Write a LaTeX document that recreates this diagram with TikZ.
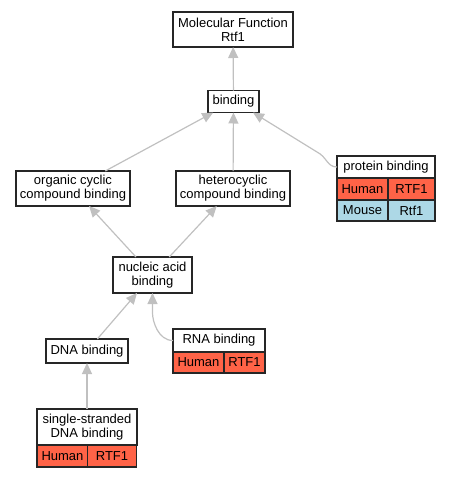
\documentclass[tikz,border=0pt]{standalone}
\usepackage{fontspec}
\setmainfont{Liberation Sans}
\usetikzlibrary{arrows.meta,calc}
\definecolor{edgegray}{RGB}{192,192,192}
\definecolor{humanred}{RGB}{255,99,71}
\definecolor{mouseblue}{RGB}{173,216,230}
\begin{document}
\begin{tikzpicture}[x=1pt,y=-1pt,
  every node/.style={font=\fontsize{13}{13.8}\selectfont, inner sep=0pt, outer sep=0pt},
  termbox/.style={draw=black!85, fill=white, line width=1.2pt, align=center},
  cellred/.style={draw=black!85, fill=humanred, line width=1.2pt},
  cellblue/.style={draw=black!85, fill=mouseblue, line width=1.2pt},
  isa/.style={draw=edgegray, line width=1.2pt, -{Triangle[length=11pt,width=10pt]}}]
\useasboundingbox (0,0) rectangle (449,477);
% term boxes
\node[termbox, minimum width=120pt, minimum height=35pt] (mf) at (233,29.5) {Molecular Function\\Rtf1};
\node[termbox, minimum width=51pt, minimum height=22pt] (bind) at (233.5,101.5) {binding};
\node[termbox, minimum width=114pt, minimum height=35pt] (org) at (73,188.5) {organic cyclic\\compound binding};
\node[termbox, minimum width=114pt, minimum height=35pt] (het) at (233,188.5) {heterocyclic\\compound binding};
\node[termbox, minimum width=79pt, minimum height=36pt] (nuc) at (152.5,275) {nucleic acid\\binding};
\node[termbox, minimum width=82pt, minimum height=24pt] (dna) at (87,351) {DNA binding};
% protein binding table
\node[termbox, minimum width=98pt, minimum height=22pt] (pb) at (386,167) {protein binding};
\node[cellred, minimum width=51pt, minimum height=22pt] (pbh) at (362.5,189) {Human};
\node[cellred, minimum width=47pt, minimum height=22pt] (pbhg) at (411.5,189) {RTF1};
\node[cellblue, minimum width=51pt, minimum height=21pt] (pbm) at (362.5,210.5) {Mouse};
\node[cellblue, minimum width=47pt, minimum height=21pt] (pbmg) at (411.5,210.5) {Rtf1};
% RNA binding table
\node[termbox, minimum width=92pt, minimum height=23pt] (rna) at (219,340.5) {RNA binding};
\node[cellred, minimum width=51pt, minimum height=21pt] (rnah) at (198.5,362.5) {Human};
\node[cellred, minimum width=41pt, minimum height=21pt] (rnahg) at (244.5,362.5) {RTF1};
% single-stranded DNA binding table
\node[termbox, minimum width=100pt, minimum height=36pt] (ss) at (87,427) {single-stranded\\DNA binding};
\node[cellred, minimum width=51pt, minimum height=22pt] (ssh) at (62.5,456) {Human};
\node[cellred, minimum width=49pt, minimum height=22pt] (sshg) at (112,456) {RTF1};
% edges
\draw[isa] (bind) -- (mf);
\draw[isa] (org) -- (bind);
\draw[isa] (het) -- (bind);
\draw[isa] (pb.west) .. controls ($(pb.west)+(-10,0)$) and ($(pb.west)+(-10,-10)$) .. ($(pb.west)+(-20,-15)$) -- ($(bind.south east)+(-6,0)$);
\draw[isa] (nuc) -- (org);
\draw[isa] (nuc) -- (het);
\draw[isa] (dna) -- (nuc);
\draw[isa] (rna.west) .. controls ($(rna.west)+(-15,0)$) and ($(nuc.south)+(0,28)$) .. ($(nuc.south)+(0,20)$) -- (nuc.south);
\draw[isa] (ss.north) -- (dna.south);
\end{tikzpicture}
\end{document}
